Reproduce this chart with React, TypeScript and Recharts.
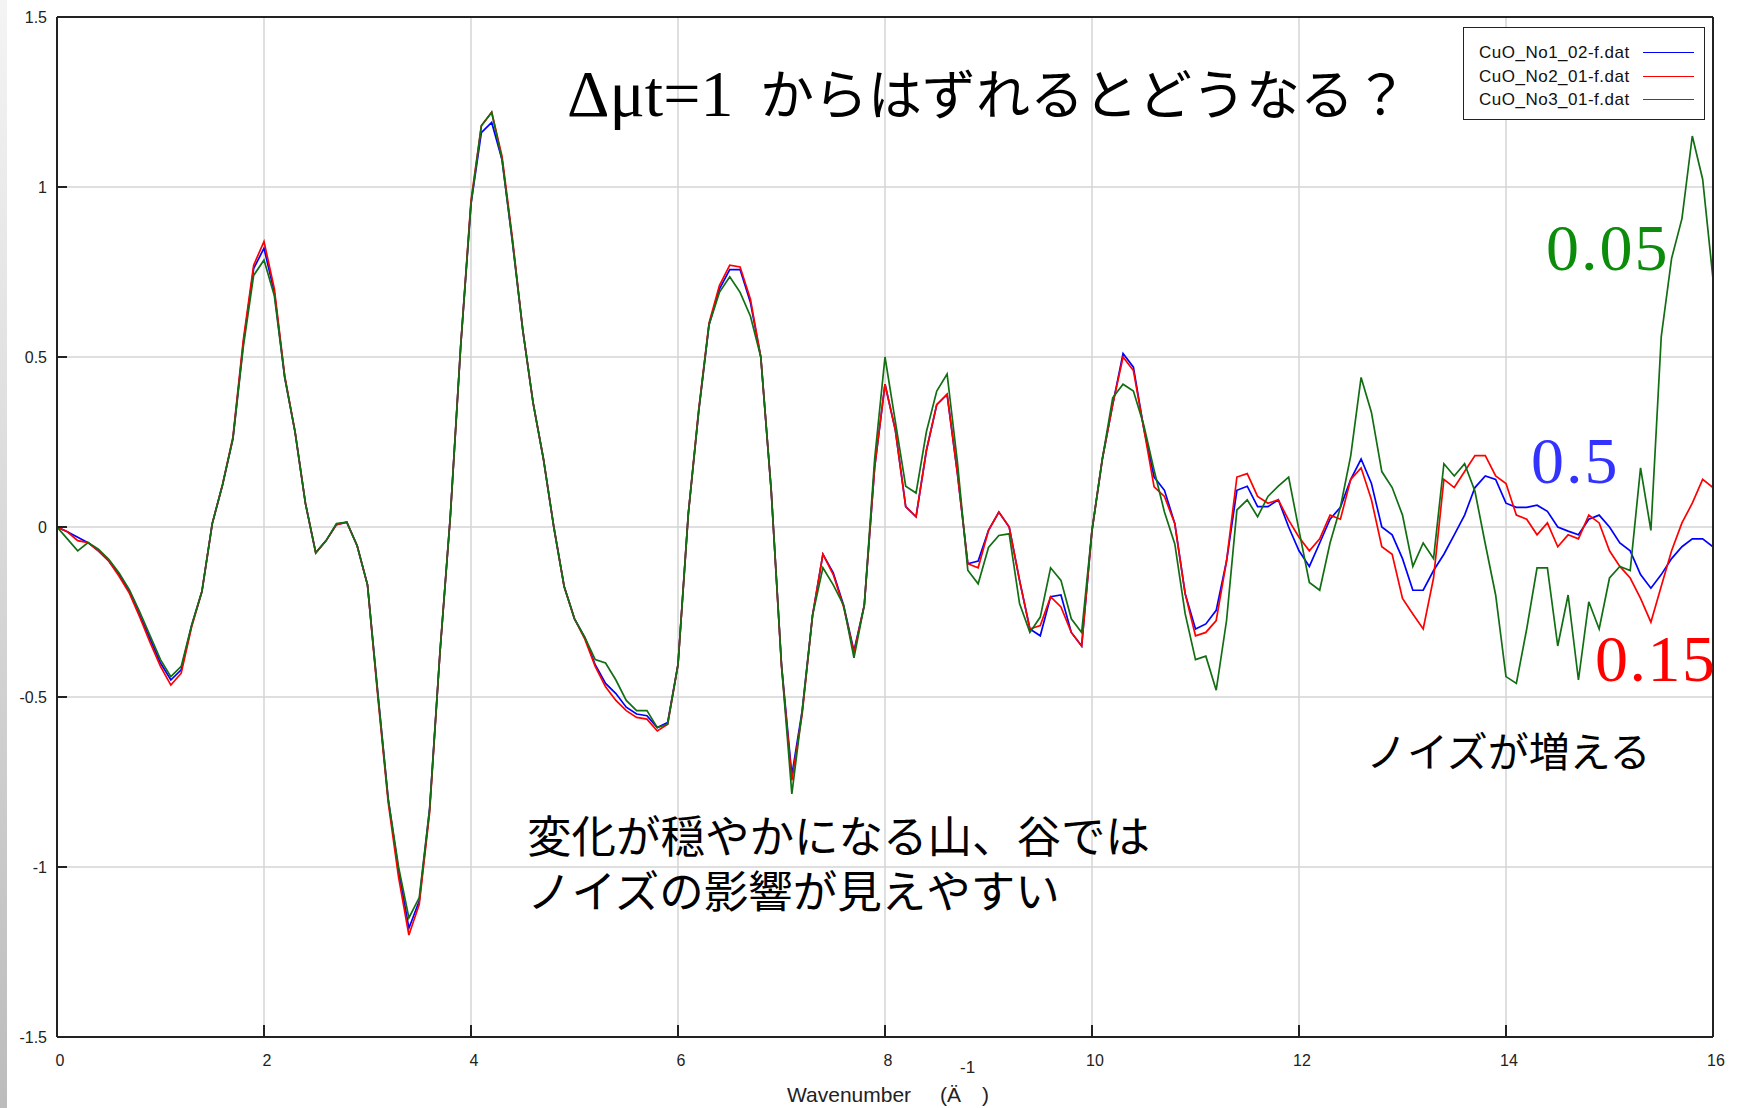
import React from 'react'
import { LineChart, Line, XAxis, YAxis, CartesianGrid } from 'recharts'

const wavenumber = [
  0, 0.1, 0.2, 0.3, 0.4, 0.5, 0.6, 0.7, 0.8, 0.9,
  1, 1.1, 1.2, 1.3, 1.4, 1.5, 1.6, 1.7, 1.8, 1.9,
  2, 2.1, 2.2, 2.3, 2.4, 2.5, 2.6, 2.7, 2.8, 2.9,
  3, 3.1, 3.2, 3.3, 3.4, 3.5, 3.6, 3.7, 3.8, 3.9,
  4, 4.1, 4.2, 4.3, 4.4, 4.5, 4.6, 4.7, 4.8, 4.9,
  5, 5.1, 5.2, 5.3, 5.4, 5.5, 5.6, 5.7, 5.8, 5.9,
  6, 6.1, 6.2, 6.3, 6.4, 6.5, 6.6, 6.7, 6.8, 6.9,
  7, 7.1, 7.2, 7.3, 7.4, 7.5, 7.6, 7.7, 7.8, 7.9,
  8, 8.1, 8.2, 8.3, 8.4, 8.5, 8.6, 8.7, 8.8, 8.9,
  9, 9.1, 9.2, 9.3, 9.4, 9.5, 9.6, 9.7, 9.8, 9.9,
  10, 10.1, 10.2, 10.3, 10.4, 10.5, 10.6, 10.7, 10.8, 10.9,
  11, 11.1, 11.2, 11.3, 11.4, 11.5, 11.6, 11.7, 11.8, 11.9,
  12, 12.1, 12.2, 12.3, 12.4, 12.5, 12.6, 12.7, 12.8, 12.9,
  13, 13.1, 13.2, 13.3, 13.4, 13.5, 13.6, 13.7, 13.8, 13.9,
  14, 14.1, 14.2, 14.3, 14.4, 14.5, 14.6, 14.7, 14.8, 14.9,
  15, 15.1, 15.2, 15.3, 15.4, 15.5, 15.6, 15.7, 15.8, 15.9,
  16,
]

// CuO_No1_02-f.dat  (blue)
const no1 = [
  0, -0.014, -0.03, -0.046, -0.07, -0.1, -0.14, -0.19, -0.26, -0.33,
  -0.4, -0.45, -0.42, -0.29, -0.19, 0.01, 0.125, 0.26, 0.54, 0.76,
  0.82, 0.69, 0.44, 0.28, 0.07, -0.076, -0.04, 0.007, 0.014, -0.055,
  -0.17, -0.49, -0.8, -1.01, -1.18, -1.1, -0.83, -0.37, 0.03, 0.53,
  0.95, 1.16, 1.19, 1.08, 0.84, 0.58, 0.365, 0.2, 0, -0.175,
  -0.27, -0.325, -0.405, -0.46, -0.49, -0.53, -0.55, -0.555, -0.59, -0.575,
  -0.405, 0.04, 0.34, 0.595, 0.7, 0.757, 0.757, 0.66, 0.5, 0.11,
  -0.405, -0.73, -0.54, -0.26, -0.08, -0.135, -0.23, -0.365, -0.23, 0.175,
  0.42, 0.285, 0.06, 0.03, 0.225, 0.36, 0.39, 0.157, -0.108, -0.1,
  -0.01, 0.044, 0, -0.157, -0.3, -0.32, -0.205, -0.2, -0.31, -0.35,
  -0.01, 0.2, 0.36, 0.51, 0.47, 0.29, 0.147, 0.108, 0.01, -0.196,
  -0.3, -0.285, -0.245, -0.1, 0.108, 0.12, 0.06, 0.06, 0.08, 0,
  -0.07, -0.116, -0.047, 0.023, 0.058, 0.14, 0.2, 0.128, 0, -0.023,
  -0.093, -0.186, -0.186, -0.128, -0.08, -0.023, 0.035, 0.116, 0.15, 0.14,
  0.07, 0.058, 0.058, 0.064, 0.046, 0, -0.012, -0.023, 0.023, 0.035,
  0, -0.047, -0.07, -0.14, -0.18, -0.14, -0.093, -0.058, -0.035, -0.035,
  -0.058,
]

// CuO_No2_01-f.dat  (red)
const no2 = [
  0, -0.014, -0.04, -0.046, -0.07, -0.1, -0.145, -0.195, -0.265, -0.34,
  -0.41, -0.465, -0.43, -0.295, -0.19, 0.01, 0.125, 0.265, 0.55, 0.77,
  0.84, 0.7, 0.445, 0.28, 0.07, -0.076, -0.04, 0.007, 0.014, -0.055,
  -0.17, -0.5, -0.81, -1.03, -1.2, -1.11, -0.84, -0.37, 0.03, 0.53,
  0.96, 1.18, 1.22, 1.09, 0.85, 0.58, 0.365, 0.2, 0, -0.175,
  -0.27, -0.33, -0.41, -0.47, -0.51, -0.54, -0.56, -0.565, -0.6, -0.58,
  -0.405, 0.04, 0.345, 0.6, 0.71, 0.77, 0.765, 0.67, 0.5, 0.11,
  -0.41, -0.745, -0.55, -0.26, -0.08, -0.14, -0.235, -0.37, -0.23, 0.175,
  0.42, 0.285, 0.06, 0.03, 0.225, 0.36, 0.39, 0.157, -0.108, -0.12,
  -0.01, 0.044, 0, -0.157, -0.3, -0.29, -0.205, -0.235, -0.31, -0.35,
  -0.01, 0.2, 0.36, 0.5, 0.46, 0.29, 0.118, 0.09, 0.01, -0.196,
  -0.32, -0.31, -0.275, -0.1, 0.147, 0.157, 0.09, 0.07, 0.08, 0.02,
  -0.03, -0.07, -0.035, 0.035, 0.023, 0.14, 0.174, 0.08, -0.058, -0.08,
  -0.21, -0.256, -0.3, -0.15, 0.14, 0.116, 0.163, 0.21, 0.21, 0.15,
  0.128, 0.035, 0.023, -0.023, 0.012, -0.058, -0.023, -0.035, 0.035, 0.012,
  -0.07, -0.116, -0.15, -0.21, -0.28, -0.174, -0.07, 0.012, 0.07, 0.14,
  0.116,
]

// CuO_No3_01-f.dat  (green)
const no3 = [
  0, -0.035, -0.07, -0.046, -0.065, -0.095, -0.135, -0.185, -0.25, -0.32,
  -0.39, -0.44, -0.41, -0.29, -0.19, 0.01, 0.125, 0.26, 0.53, 0.74,
  0.785, 0.68, 0.44, 0.28, 0.07, -0.076, -0.04, 0.01, 0.014, -0.055,
  -0.17, -0.49, -0.8, -1, -1.15, -1.09, -0.83, -0.37, 0.03, 0.53,
  0.95, 1.18, 1.22, 1.08, 0.84, 0.58, 0.365, 0.2, 0, -0.175,
  -0.27, -0.325, -0.39, -0.4, -0.45, -0.51, -0.54, -0.54, -0.59, -0.58,
  -0.405, 0.04, 0.34, 0.595, 0.69, 0.736, 0.69, 0.62, 0.5, 0.11,
  -0.405, -0.785, -0.54, -0.26, -0.12, -0.17, -0.23, -0.385, -0.23, 0.2,
  0.5, 0.31, 0.12, 0.1, 0.28, 0.4, 0.45, 0.19, -0.127, -0.167,
  -0.06, -0.025, -0.02, -0.225, -0.31, -0.265, -0.12, -0.157, -0.27, -0.31,
  -0.01, 0.2, 0.38, 0.42, 0.4, 0.3, 0.167, 0.044, -0.05, -0.255,
  -0.39, -0.38, -0.48, -0.275, 0.05, 0.08, 0.03, 0.09, 0.12, 0.147,
  -0.01, -0.163, -0.186, -0.047, 0.058, 0.21, 0.44, 0.337, 0.163, 0.116,
  0.035, -0.116, -0.047, -0.093, 0.186, 0.15, 0.186, 0.105, -0.05, -0.2,
  -0.44, -0.46, -0.3, -0.12, -0.12, -0.35, -0.2, -0.45, -0.22, -0.3,
  -0.15, -0.116, -0.128, 0.174, -0.01, 0.56, 0.79, 0.907, 1.15, 1.023,
  0.73,
]

const seriesKeys = ['no1', 'no2', 'no3']
const seriesNames = ['CuO_No1_02-f.dat', 'CuO_No2_01-f.dat', 'CuO_No3_01-f.dat']
const seriesColors = ['#0000ff', '#ff0000', '#126e12']

const xTicks = [0, 2, 4, 6, 8, 10, 12, 14, 16]
const yTicks = [-1.5, -1, -0.5, 0, 0.5, 1, 1.5]

const data = wavenumber.map((k, i) => ({ k, no1: no1[i], no2: no2[i], no3: no3[i] }))

const sans = '"Liberation Sans", Arial, sans-serif'
const serif = '"Liberation Serif", "Times New Roman", serif'
const jp = '"Noto Sans CJK JP", sans-serif'
// latin primary font keeps the line boxes compact, kana fall back to Noto CJK
const jpCompact = '"Liberation Serif", "Noto Sans CJK JP", sans-serif'
const axisColor = '#222'

const abs = (left: number, top: number, extra: React.CSSProperties = {}): React.CSSProperties => ({
  position: 'absolute',
  left,
  top,
  lineHeight: 1,
  whiteSpace: 'nowrap',
  ...extra,
})

export default function App() {
  return (
    <div style={{ position: 'absolute', left: 0, top: 0, width: 1739, height: 1108, background: '#fff', overflow: 'hidden' }}>
      <div style={{ position: 'absolute', left: 0, top: 0, width: 7, height: 1108, background: 'linear-gradient(#f4f4f4, #bcbcbc)' }} />
      <LineChart width={1739} height={1108} data={data} margin={{ top: 0, right: 0, bottom: 0, left: 0 }}>
        <CartesianGrid stroke="#d4d4d4" strokeWidth={1.5} horizontalValues={yTicks} verticalValues={xTicks} />
        <XAxis
          dataKey="k"
          type="number"
          domain={[0, 16]}
          ticks={xTicks}
          allowDataOverflow
          height={71}
          stroke={axisColor}
          strokeWidth={2}
          tickSize={-12}
          tickMargin={30}
          tick={{ fill: '#222', fontSize: 16, fontFamily: sans, dx: 3 }}
        />
        <XAxis
          xAxisId="top"
          orientation="top"
          type="number"
          domain={[0, 16]}
          ticks={xTicks}
          allowDataOverflow
          height={17}
          stroke={axisColor}
          strokeWidth={2}
          tickSize={-8}
          tick={false}
        />
        <YAxis
          type="number"
          domain={[-1.5, 1.5]}
          ticks={yTicks}
          allowDataOverflow
          width={57}
          stroke={axisColor}
          strokeWidth={2}
          tickSize={-10}
          tickMargin={20}
          tickFormatter={(v: number) => String(v)}
          tick={{ fill: '#222', fontSize: 16, fontFamily: sans }}
        />
        <YAxis
          yAxisId="right"
          orientation="right"
          type="number"
          domain={[-1.5, 1.5]}
          ticks={yTicks}
          allowDataOverflow
          width={26}
          stroke={axisColor}
          strokeWidth={2}
          tickSize={-8}
          tick={false}
        />
        {seriesKeys.map((key, i) => (
          <Line
            key={key}
            type="linear"
            dataKey={key}
            name={seriesNames[i]}
            stroke={seriesColors[i]}
            strokeWidth={1.7}
            dot={false}
            isAnimationActive={false}
          />
        ))}
      </LineChart>

      {/* legend */}
      <div style={{ position: 'absolute', left: 1463, top: 27, width: 242, height: 93, boxSizing: 'border-box', border: '1.5px solid #222', background: '#fff' }}>
        {seriesNames.map((name, i) => (
          <React.Fragment key={name}>
            <div style={abs(15, 15 + i * 23.5, { fontFamily: sans, fontSize: 17, letterSpacing: 0.5, color: '#111', height: 20, lineHeight: '20px' })}>{name}</div>
            <div style={{ position: 'absolute', left: 179, top: 24 + i * 23.5, width: 51, borderTop: `1.6px solid ${seriesColors[i]}` }} />
          </React.Fragment>
        ))}
      </div>

      {/* title */}
      <div style={abs(567, 61, { fontFamily: serif, fontSize: 66, color: '#000' })}>Δμt=1</div>
      <div style={abs(760, 65, { fontFamily: jp, fontSize: 54, color: '#000' })}>からはずれるとどうなる？</div>

      {/* annotations */}
      <div style={abs(1546, 215, { fontFamily: serif, fontSize: 66, letterSpacing: 2, color: '#0b8c0b' })}>0.05</div>
      <div style={abs(1531, 428, { fontFamily: serif, fontSize: 66, letterSpacing: 2, color: '#3333ff' })}>0.5</div>
      <div style={abs(1595, 626, { fontFamily: serif, fontSize: 66, letterSpacing: 1.5, color: '#ff0000' })}>0.15</div>
      <div style={abs(1366, 729, { fontFamily: jp, fontSize: 41, color: '#000' })}>ノイズが増える</div>
      <div style={abs(527, 811, { fontFamily: jpCompact, fontSize: 44.5, lineHeight: '55px', color: '#000' })}>
        変化が穏やかになる山、谷では
        <br />
        ノイズの影響が見えやすい
      </div>

      {/* x axis title */}
      <div style={abs(787, 1084, { fontFamily: sans, fontSize: 21, color: '#222' })}>Wavenumber</div>
      <div style={abs(940, 1084, { fontFamily: sans, fontSize: 21, color: '#222' })}>(Ä</div>
      <div style={abs(982, 1084, { fontFamily: sans, fontSize: 21, color: '#222' })}>)</div>
      <div style={abs(960, 1059, { fontFamily: sans, fontSize: 17, color: '#222' })}>-1</div>
    </div>
  )
}
